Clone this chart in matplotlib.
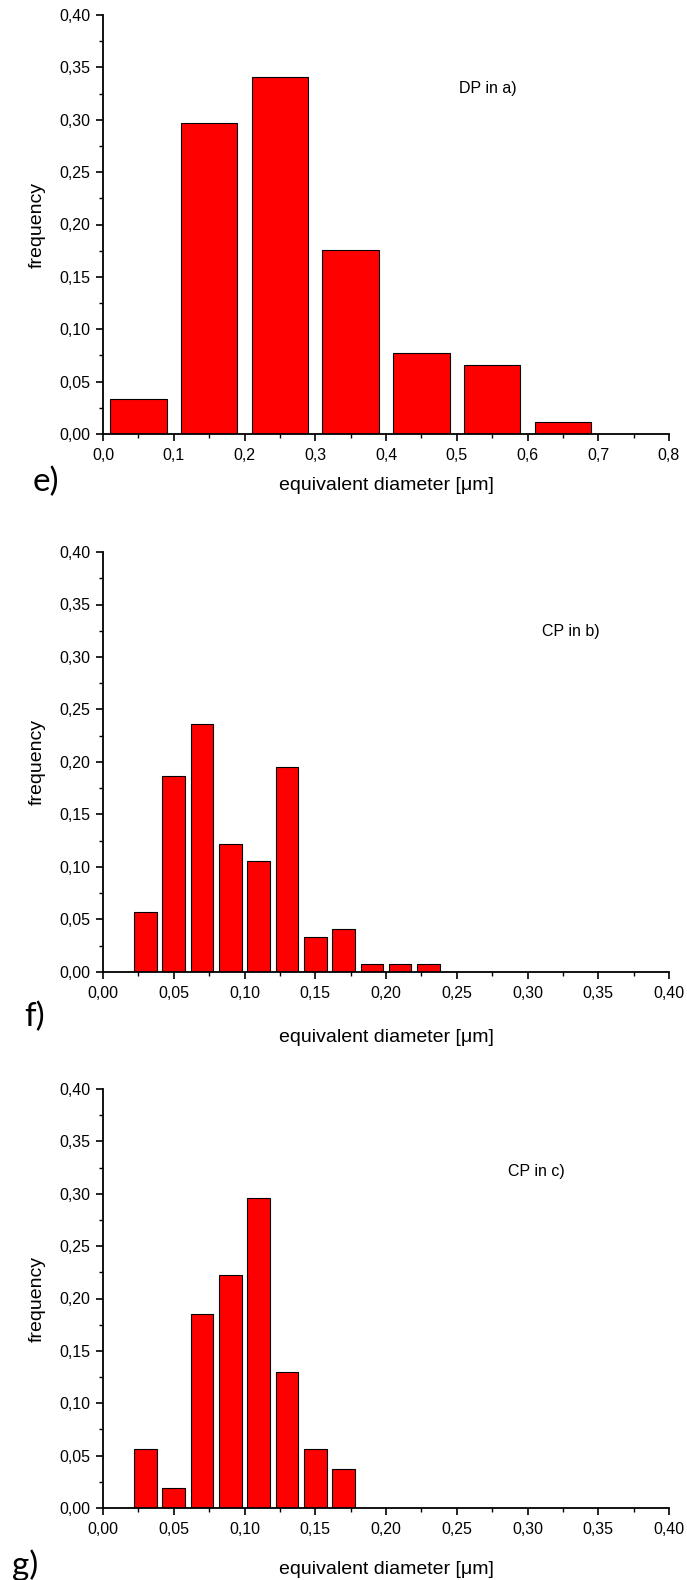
import numpy as np
import matplotlib
matplotlib.use('Agg')
import matplotlib.pyplot as plt
from matplotlib.ticker import MultipleLocator, FuncFormatter

plt.rcParams['font.family'] = ['Liberation Sans', 'DejaVu Sans']

# ---- data (relative frequency per diameter class, micrometres) ----
e_centers = [0.05, 0.15, 0.25, 0.35, 0.45, 0.55, 0.65]
e_freq = [0.033, 0.297, 0.341, 0.176, 0.077, 0.066, 0.011]

f_centers = [0.03, 0.05, 0.07, 0.09, 0.11, 0.13, 0.15, 0.17, 0.19, 0.21, 0.23]
f_freq = [0.057, 0.187, 0.236, 0.122, 0.106, 0.195, 0.033, 0.041, 0.008, 0.008, 0.008]

g_centers = [0.03, 0.05, 0.07, 0.09, 0.11, 0.13, 0.15, 0.17]
g_freq = [0.056, 0.019, 0.185, 0.222, 0.296, 0.130, 0.056, 0.037]

panels = [
    # centers, freq, bar width, xmax, x major, x decimals, note, note pos, letter
    (e_centers, e_freq, 0.08, 0.8, 0.1, 1, 'DP in a)', (0.503, 0.33), 'e)'),
    (f_centers, f_freq, 0.016, 0.4, 0.05, 2, 'CP in b)', (0.310, 0.324), 'f)'),
    (g_centers, g_freq, 0.016, 0.4, 0.05, 2, 'CP in c)', (0.286, 0.321), 'g)'),
]

W, H = 687, 1580
fig = plt.figure(figsize=(W / 100, H / 100), dpi=100)

# axes boxes in pixels: (left, top, right, bottom)
boxes = [(103, 15, 669, 434), (103, 552, 669, 972), (103, 1089, 669, 1508)]
letter_xy = [(46, 482), (35, 1017), (25, 1565)]
xlabel_y = [486, 1038, 1569]


def comma(decimals):
    return FuncFormatter(lambda v, pos: f'{v:.{decimals}f}'.replace('.', ','))


for (centers, freq, width, xmax, xmaj, dec, note, note_pos, letter), box, lxy, xy in zip(
        panels, boxes, letter_xy, xlabel_y):
    l, t, r, b = box
    ax = fig.add_axes([l / W, 1 - b / H, (r - l) / W, (b - t) / H])
    ax.bar(centers, freq, width=width, color='#ff0000', edgecolor='black', linewidth=0.8)

    ax.set_xlim(0, xmax)
    ax.set_ylim(0, 0.4)
    ax.spines['top'].set_visible(False)
    ax.spines['right'].set_visible(False)
    for s in ('left', 'bottom'):
        ax.spines[s].set_linewidth(1.3)

    ax.xaxis.set_major_locator(MultipleLocator(xmaj))
    ax.xaxis.set_minor_locator(MultipleLocator(xmaj / 2))
    ax.yaxis.set_major_locator(MultipleLocator(0.05))
    ax.yaxis.set_minor_locator(MultipleLocator(0.025))
    ax.xaxis.set_major_formatter(comma(dec))
    ax.yaxis.set_major_formatter(comma(2))
    ax.tick_params(which='major', direction='out', length=5, width=1.2, labelsize=11.5)
    ax.tick_params(which='minor', direction='out', length=3, width=1.0)
    ax.tick_params(axis='x', which='major', pad=5)
    ax.tick_params(axis='y', which='major', pad=4)

    ax.set_ylabel('frequency', fontsize=14)
    ax.yaxis.set_label_coords((46 - l) / (r - l), 0.5)
    ax.text(note_pos[0], note_pos[1], note, fontsize=11.5, va='center')

    fig.text(((l + r) / 2) / W, 1 - xy / H, 'equivalent diameter [μm]',
             ha='center', va='center', fontsize=14)
    fig.text(lxy[0] / W, 1 - lxy[1] / H, letter, ha='center', va='center', fontsize=24,
             family=['Lato', 'DejaVu Sans'])

fig.savefig('out.png', dpi=100)
